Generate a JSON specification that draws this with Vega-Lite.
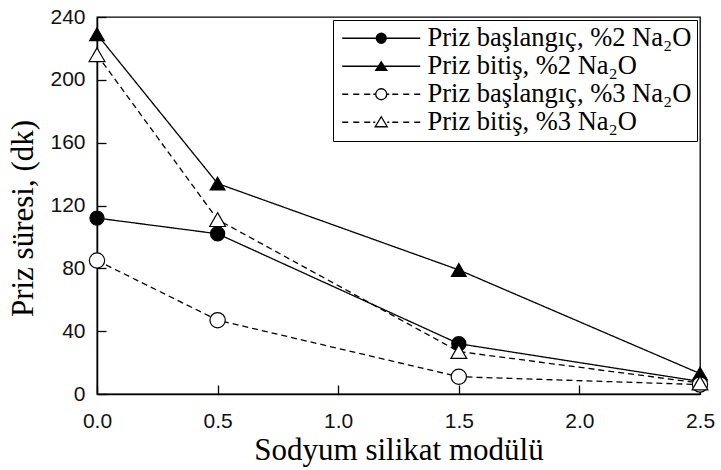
{
  "$schema": "https://vega.github.io/schema/vega-lite/v6.json",
  "width": 603,
  "height": 377,
  "autosize": "none",
  "padding": {"left": 97, "top": 17, "right": 21, "bottom": 76},
  "background": "white",
  "config": {
    "view": {"stroke": "black", "strokeWidth": 1.3},
    "axis": {
      "grid": false,
      "domainColor": "black",
      "domainWidth": 1.5,
      "tickColor": "black",
      "tickWidth": 1.3,
      "tickSize": -9,
      "labelFont": "Liberation Sans",
      "labelFontSize": 21,
      "labelColor": "#111",
      "titleFont": "Liberation Serif",
      "titleFontSize": 31,
      "titleFontWeight": "normal",
      "titleColor": "black"
    },
    "legend": {
      "labelFont": "Liberation Serif",
      "labelFontSize": 26.5,
      "labelColor": "black",
      "labelLimit": 0
    }
  },
  "data": {
    "values": [
      {"modul": 0.0, "sure": 112, "seri": "Priz başlangıç, %2 Na₂O"},
      {"modul": 0.5, "sure": 102, "seri": "Priz başlangıç, %2 Na₂O"},
      {"modul": 1.5, "sure": 32, "seri": "Priz başlangıç, %2 Na₂O"},
      {"modul": 2.5, "sure": 8, "seri": "Priz başlangıç, %2 Na₂O"},
      {"modul": 0.0, "sure": 229, "seri": "Priz bitiş, %2 Na₂O"},
      {"modul": 0.5, "sure": 134, "seri": "Priz bitiş, %2 Na₂O"},
      {"modul": 1.5, "sure": 79, "seri": "Priz bitiş, %2 Na₂O"},
      {"modul": 2.5, "sure": 13, "seri": "Priz bitiş, %2 Na₂O"},
      {"modul": 0.0, "sure": 85, "seri": "Priz başlangıç, %3 Na₂O"},
      {"modul": 0.5, "sure": 47, "seri": "Priz başlangıç, %3 Na₂O"},
      {"modul": 1.5, "sure": 11, "seri": "Priz başlangıç, %3 Na₂O"},
      {"modul": 2.5, "sure": 6, "seri": "Priz başlangıç, %3 Na₂O"},
      {"modul": 0.0, "sure": 216, "seri": "Priz bitiş, %3 Na₂O"},
      {"modul": 0.5, "sure": 111, "seri": "Priz bitiş, %3 Na₂O"},
      {"modul": 1.5, "sure": 27, "seri": "Priz bitiş, %3 Na₂O"},
      {"modul": 2.5, "sure": 7, "seri": "Priz bitiş, %3 Na₂O"}
    ]
  },
  "encoding": {
    "x": {
      "field": "modul", "type": "quantitative",
      "scale": {"domain": [0, 2.5], "nice": false, "zero": false},
      "axis": {"values": [0, 0.5, 1, 1.5, 2, 2.5], "format": ".1f", "labelPadding": 25, "title": "Sodyum silikat modülü", "titlePadding": 4, "labelFlush": false}
    },
    "y": {
      "field": "sure", "type": "quantitative",
      "scale": {"domain": [0, 240], "nice": false},
      "axis": {"values": [0, 40, 80, 120, 160, 200, 240], "labelPadding": 21, "title": "Priz süresi, (dk)", "titlePadding": 10, "titleY": 201, "labelFlush": false}
    }
  },
  "layer": [
    {
      "mark": {"type": "line", "color": "black", "strokeWidth": 1.3},
      "encoding": {
        "detail": {"field": "seri"},
        "strokeDash": {
          "field": "seri", "type": "nominal",
          "scale": {
            "domain": ["Priz başlangıç, %2 Na₂O", "Priz bitiş, %2 Na₂O", "Priz başlangıç, %3 Na₂O", "Priz bitiş, %3 Na₂O"],
            "range": [[1, 0], [1, 0], [6, 4], [6, 4]]
          },
          "legend": null
        }
      }
    },
    {
      "mark": {"type": "point", "filled": true, "opacity": 1, "stroke": "black", "strokeWidth": 1.2},
      "encoding": {
        "shape": {
          "field": "seri", "type": "nominal",
          "scale": {
            "domain": ["Priz başlangıç, %2 Na₂O", "Priz bitiş, %2 Na₂O", "Priz başlangıç, %3 Na₂O", "Priz bitiş, %3 Na₂O"],
            "range": ["circle", "triangle-up", "circle", "triangle-up"]
          },
          "legend": null
        },
        "size": {
          "field": "seri", "type": "nominal",
          "scale": {
            "domain": ["Priz başlangıç, %2 Na₂O", "Priz bitiş, %2 Na₂O", "Priz başlangıç, %3 Na₂O", "Priz bitiş, %3 Na₂O"],
            "range": [200, 250, 200, 250]
          },
          "legend": null
        },
        "fill": {
          "field": "seri", "type": "nominal",
          "scale": {
            "domain": ["Priz başlangıç, %2 Na₂O", "Priz bitiş, %2 Na₂O", "Priz başlangıç, %3 Na₂O", "Priz bitiş, %3 Na₂O"],
            "range": ["black", "black", "white", "white"]
          },
          "legend": null
        }
      }
    },
    {
      "transform": [{"filter": "datum.sure < 0"}],
      "mark": {"type": "point", "filled": false, "opacity": 1, "stroke": "black", "strokeWidth": 1.3},
      "encoding": {
        "shape": {
          "field": "seri", "type": "nominal",
          "scale": {
            "domain": ["Priz başlangıç, %2 Na₂O", "Priz bitiş, %2 Na₂O", "Priz başlangıç, %3 Na₂O", "Priz bitiş, %3 Na₂O"],
            "range": [
              "M-7.8,0L-1,0M1,0L7.8,0M-1,0A1,1 0 1,1 1,0A1,1 0 1,1 -1,0ZM-0.8,0A0.8,0.8 0 1,1 0.8,0A0.8,0.8 0 1,1 -0.8,0ZM-0.6,0A0.6,0.6 0 1,1 0.6,0A0.6,0.6 0 1,1 -0.6,0ZM-0.4,0A0.4,0.4 0 1,1 0.4,0A0.4,0.4 0 1,1 -0.4,0ZM-0.2,0A0.2,0.2 0 1,1 0.2,0A0.2,0.2 0 1,1 -0.2,0ZM-0.05,0L0.05,0",
              "M-7.8,0L7.8,0M0,-0.9L1.1,0.8L-1.1,0.8ZM0,-0.56L0.77,0.63L-0.77,0.63ZM0,-0.22L0.44,0.46L-0.44,0.46ZM0,0.06L0.17,0.32L-0.17,0.32Z",
              "M-7.8,0L-6.6,0M-5.6,0L-4.4,0M-3.4,0L-2.2,0M-1.6,0L-1.1,0M1.1,0L1.6,0M2.2,0L3.4,0M4.4,0L5.6,0M6.6,0L7.8,0M-1.1,0A1.1,1.1 0 1,1 1.1,0A1.1,1.1 0 1,1 -1.1,0Z",
              "M-7.8,0L-6.6,0M-5.6,0L-4.4,0M-3.4,0L-2.2,0M-1.6,0L-1.2,0M1.2,0L1.6,0M2.2,0L3.4,0M4.4,0L5.6,0M6.6,0L7.8,0M0,-1.1L1.2,0.9L-1.2,0.9Z"
            ]
          },
          "legend": {
            "title": null,
            "orient": "top-right",
            "offset": 3,
            "padding": 5,
            "strokeColor": "black",
            "fillColor": "white",
            "symbolSize": 100,
            "symbolStrokeWidth": 1.3,
            "symbolStrokeColor": "black",
            "symbolOffset": 30,
            "labelOffset": 33,
            "rowPadding": 1
          }
        }
      }
    }
  ],
  "resolve": {
    "scale": {"shape": "independent"},
    "legend": {"shape": "independent"}
  }
}
